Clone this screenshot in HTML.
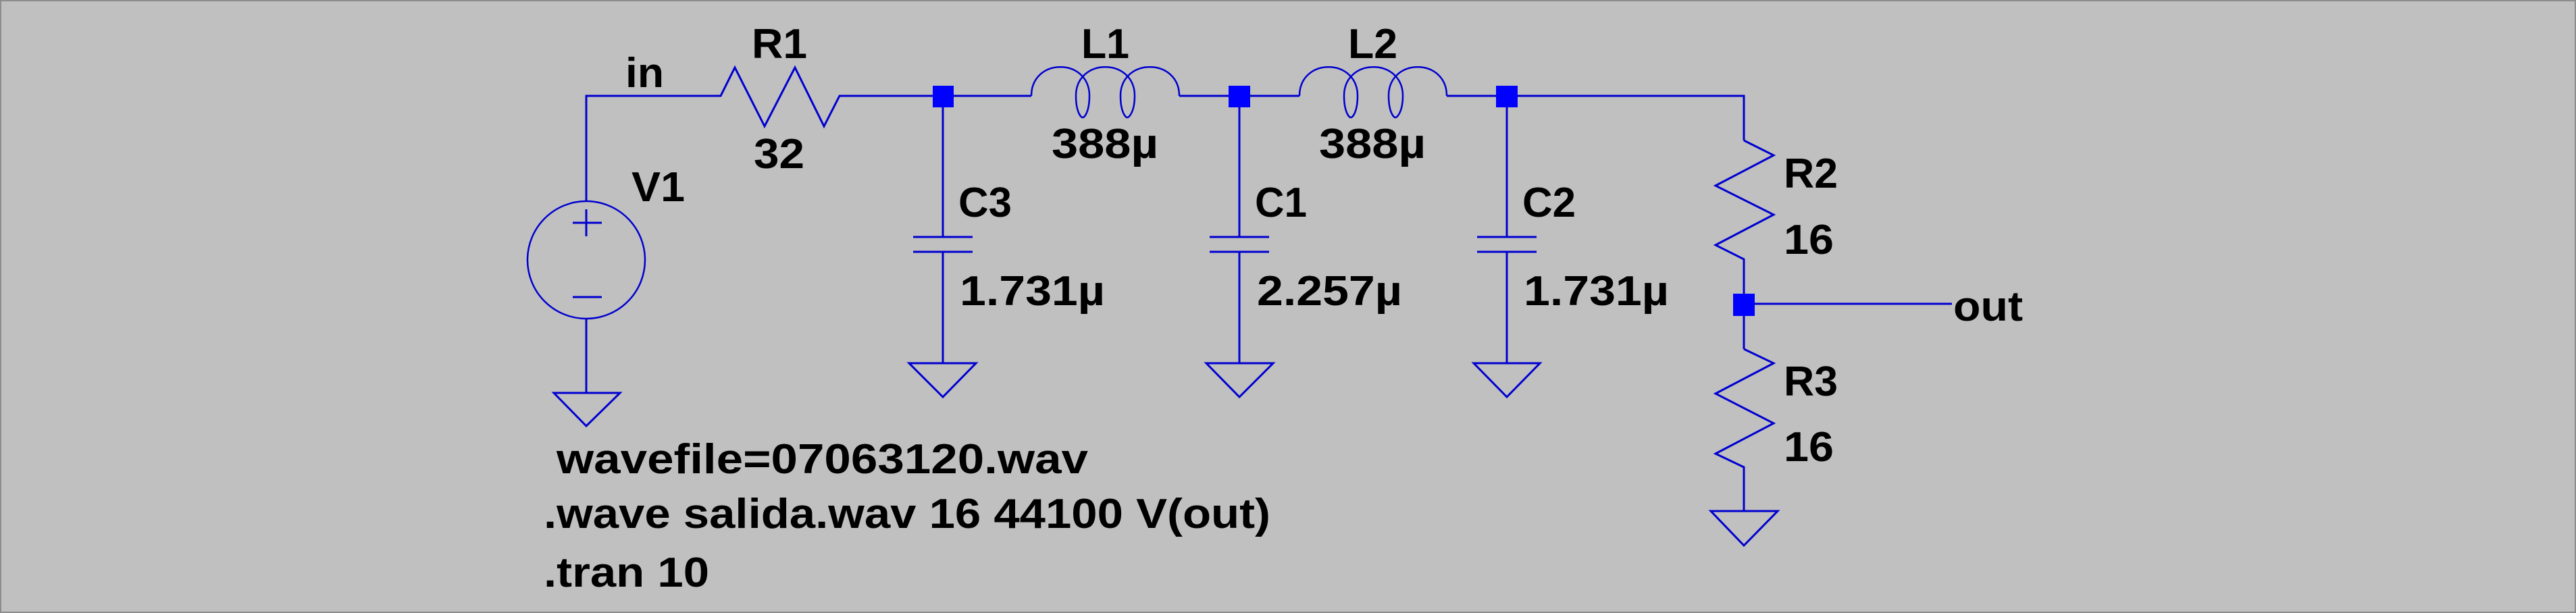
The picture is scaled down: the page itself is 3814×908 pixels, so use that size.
<!DOCTYPE html>
<html><head><meta charset="utf-8"><style>
html,body{margin:0;padding:0;background:#c0c0c0;}
svg{display:block;}
text{font-family:"Liberation Sans",sans-serif;font-weight:bold;font-size:62px;fill:#000;}
</style></head><body>
<svg width="3814" height="908" viewBox="0 0 3814 908" xmlns="http://www.w3.org/2000/svg">
<rect x="0" y="0" width="3814" height="908" fill="#c0c0c0"/>
<rect x="1" y="1" width="3812" height="906" fill="none" stroke="#8c8c8c" stroke-width="2"/>
<g stroke="#0000d0" stroke-width="3" fill="none">
<polyline points="868,298 868,142 1045,142"/>
<polyline points="1045,142 1067,142 1088,100 1132,187 1177,100 1220,187 1243,142 1527,142"/>
<path d="M1527,142 C1527,85 1613,85 1613,142 C1613,165 1606,174 1603,174 C1600,174 1593,165 1593,142 C1593,85 1680,85 1680,142 C1680,165 1672,174 1669,174 C1666,174 1659,165 1659,142 C1659,85 1746,85 1746,142" stroke-width="2.5"/>
<line x1="1746" y1="142" x2="1924" y2="142"/>
<path d="M1924,142 C1924,85 2010,85 2010,142 C2010,165 2003,174 2000,174 C1997,174 1990,165 1990,142 C1990,85 2077,85 2077,142 C2077,165 2069,174 2066,174 C2063,174 2056,165 2056,142 C2056,85 2142,85 2142,142" stroke-width="2.5"/>
<polyline points="2142,142 2582,142 2582,208"/>
<polyline points="2582,208 2626,230 2540,275 2626,318 2540,363 2582,384 2582,517"/>
<polyline points="2582,517 2626,538 2540,583 2626,627 2540,672 2582,692 2582,757"/>
<polygon points="2533,757 2632,757 2582,808"/>
<line x1="2582" y1="450" x2="2890" y2="450"/>
<circle cx="868" cy="385" r="87" stroke-width="2.5"/>
<line x1="848" y1="330" x2="891" y2="330"/>
<line x1="868" y1="310" x2="868" y2="350"/>
<line x1="848" y1="440" x2="891" y2="440"/>
<line x1="868" y1="472" x2="868" y2="582"/>
<polygon points="820,582 918,582 868,631"/>
<line x1="1396" y1="142" x2="1396" y2="351"/>
<line x1="1352" y1="351" x2="1440" y2="351"/>
<line x1="1352" y1="373" x2="1440" y2="373"/>
<line x1="1396" y1="373" x2="1396" y2="538"/>
<polygon points="1346,538 1445,538 1396,588"/>
<line x1="1835" y1="142" x2="1835" y2="351"/>
<line x1="1791" y1="351" x2="1879" y2="351"/>
<line x1="1791" y1="373" x2="1879" y2="373"/>
<line x1="1835" y1="373" x2="1835" y2="538"/>
<polygon points="1786,538 1885,538 1835,588"/>
<line x1="2231" y1="142" x2="2231" y2="351"/>
<line x1="2187" y1="351" x2="2275" y2="351"/>
<line x1="2187" y1="373" x2="2275" y2="373"/>
<line x1="2231" y1="373" x2="2231" y2="538"/>
<polygon points="2182,538 2280,538 2231,588"/>
</g>
<g fill="#0000ff">
<rect x="1381" y="127" width="31" height="32"/>
<rect x="1819" y="127" width="32" height="32"/>
<rect x="2215" y="127" width="32" height="32"/>
<rect x="2566" y="435" width="32" height="33"/>
</g>
<text x="926" y="129" textLength="57" lengthAdjust="spacingAndGlyphs">in</text>
<text x="1113" y="86" textLength="82" lengthAdjust="spacingAndGlyphs">R1</text>
<text x="1116" y="249" textLength="75" lengthAdjust="spacingAndGlyphs">32</text>
<text x="935" y="298" textLength="79" lengthAdjust="spacingAndGlyphs">V1</text>
<text x="1601" y="86" textLength="71" lengthAdjust="spacingAndGlyphs">L1</text>
<text x="1557" y="234" textLength="158" lengthAdjust="spacingAndGlyphs">388µ</text>
<text x="1996" y="86" textLength="73" lengthAdjust="spacingAndGlyphs">L2</text>
<text x="1953" y="234" textLength="158" lengthAdjust="spacingAndGlyphs">388µ</text>
<text x="1419" y="321" textLength="79" lengthAdjust="spacingAndGlyphs">C3</text>
<text x="1421" y="452" textLength="215" lengthAdjust="spacingAndGlyphs">1.731µ</text>
<text x="1858" y="321" textLength="77" lengthAdjust="spacingAndGlyphs">C1</text>
<text x="1861" y="452" textLength="215" lengthAdjust="spacingAndGlyphs">2.257µ</text>
<text x="2254" y="321" textLength="79" lengthAdjust="spacingAndGlyphs">C2</text>
<text x="2256" y="452" textLength="215" lengthAdjust="spacingAndGlyphs">1.731µ</text>
<text x="2641" y="278" textLength="80" lengthAdjust="spacingAndGlyphs">R2</text>
<text x="2641" y="376" textLength="74" lengthAdjust="spacingAndGlyphs">16</text>
<text x="2641" y="586" textLength="80" lengthAdjust="spacingAndGlyphs">R3</text>
<text x="2641" y="683" textLength="74" lengthAdjust="spacingAndGlyphs">16</text>
<text x="2892" y="475" textLength="103" lengthAdjust="spacingAndGlyphs">out</text>
<text x="824" y="701" textLength="787" lengthAdjust="spacingAndGlyphs">wavefile=07063120.wav</text>
<text x="805" y="782" textLength="1076" lengthAdjust="spacingAndGlyphs">.wave salida.wav 16 44100 V(out)</text>
<text x="805" y="869" textLength="245" lengthAdjust="spacingAndGlyphs">.tran 10</text>
</svg>
</body></html>
